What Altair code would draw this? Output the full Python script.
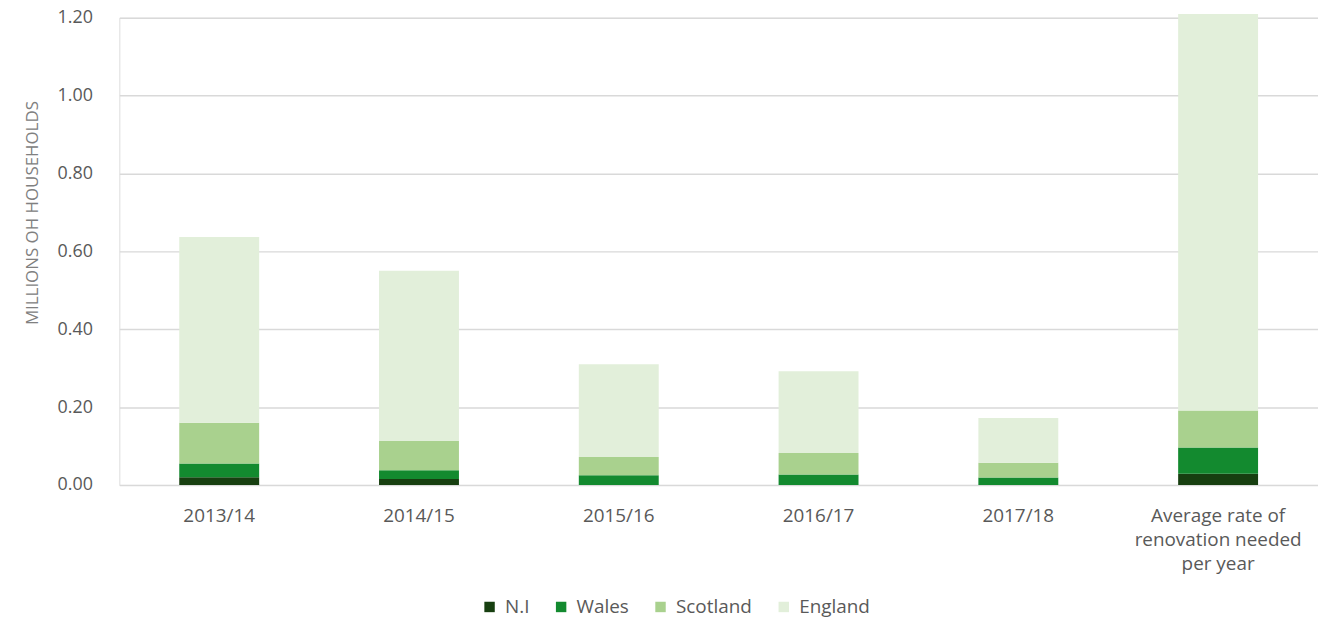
import altair as alt
import pandas as pd

categories = ["2013/14", "2014/15", "2015/16", "2016/17", "2017/18", "Average"]
regions = ["N.I", "Wales", "Scotland", "England"]
ni = [0.020, 0.015, 0.000, 0.000, 0.000, 0.029]
wales = [0.035, 0.023, 0.025, 0.027, 0.019, 0.067]
scotland = [0.105, 0.075, 0.047, 0.055, 0.038, 0.095]
england = [0.477, 0.437, 0.238, 0.210, 0.115, 1.019]
colors = ["#173f10", "#138a2f", "#a9d18e", "#e2efda"]
y_ticks = [0.0, 0.2, 0.4, 0.6, 0.8, 1.0, 1.2]

rows = []
for series_idx, (name, vals) in enumerate(zip(regions, [ni, wales, scotland, england])):
    for cat, v in zip(categories, vals):
        rows.append({"category": cat, "region": name, "value": v, "order": series_idx})
df = pd.DataFrame(rows)

label_expr = ("datum.value == 'Average' ? ['Average rate of', 'renovation needed', 'per year'] : datum.value")

chart = alt.Chart(df).mark_bar().encode(
    x=alt.X("category:N", sort=categories,
            scale=alt.Scale(paddingInner=0.6, paddingOuter=0.3),
            axis=alt.Axis(title=None, labelAngle=0, labelExpr=label_expr, domain=False, ticks=False,
                          labelPadding=22, labelFontSize=19, labelColor="#595959",
                          labelLineHeight=24, labelBaseline="top")),
    y=alt.Y("value:Q", stack="zero",
            scale=alt.Scale(domain=[0, 1.2], nice=False),
            axis=alt.Axis(title="MILLIONS OH HOUSEHOLDS", values=y_ticks, format=".2f",
                          domain=False, ticks=False, labelPadding=27, labelFontSize=18,
                          labelColor="#595959", gridColor="#d9d9d9", gridWidth=1.5,
                          titleFontSize=17, titleColor="#808080", titleFontWeight="normal",
                          titleAngle=-90, titleX=-87, titleY=196, titleAlign="center",
                          titleBaseline="middle")),
    color=alt.Color("region:N", sort=regions,
                    scale=alt.Scale(domain=regions, range=colors),
                    legend=alt.Legend(title=None, orient="none", direction="horizontal",
                                      legendX=363, legendY=583, symbolType="square",
                                      symbolSize=110, symbolStrokeWidth=0, labelFontSize=19,
                                      labelColor="#595959", columnPadding=22, labelOffset=6)),
    order=alt.Order("order:Q", sort="ascending"),
).properties(
    width=1206, height=470,
    autosize=alt.AutoSizeParams(type="none"),
    padding={"left": 112, "top": 8, "right": 0, "bottom": 134},
).configure_view(stroke=None).configure(font="Open Sans")

chart.save("out.html", embed_options={"renderer": "svg", "actions": False})
